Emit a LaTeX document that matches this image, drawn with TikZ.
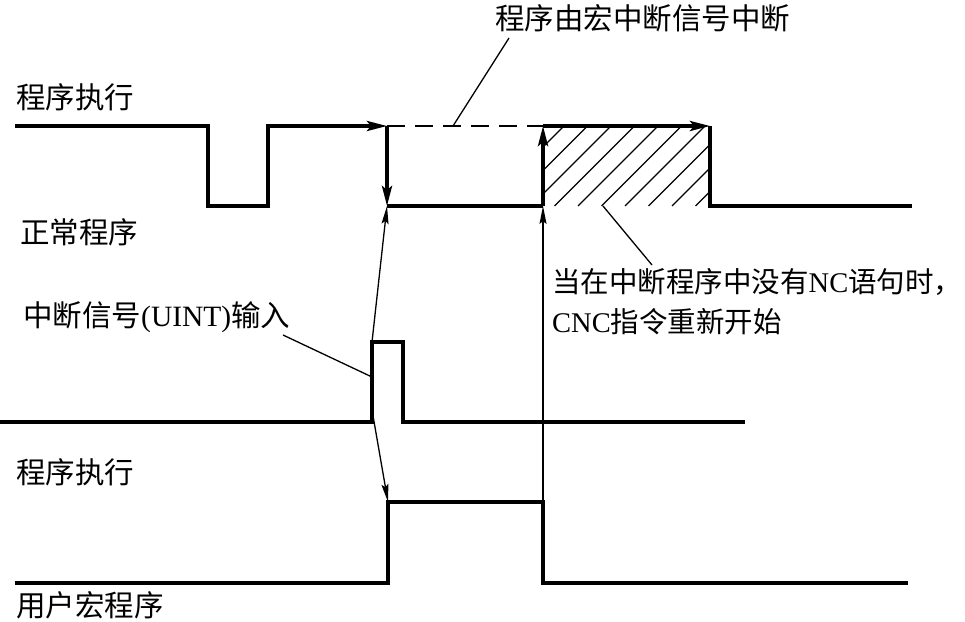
\documentclass[tikz,border=0pt]{standalone}
\usepackage{fontspec}
\setmainfont{Liberation Serif}
\newfontfamily\cjk{Noto Sans CJK SC}
\newcommand{\zh}[1]{{\cjk #1}}
\usetikzlibrary{arrows.meta}

\begin{document}
\begin{tikzpicture}[x=1pt,y=-1pt,
  font=\fontsize{29.5}{40}\selectfont,
  wave/.style={line width=3.5pt,line join=miter},
  thinline/.style={line width=1.3pt},
  warr/.style={wave,-{Stealth[length=20pt,width=10pt,inset=4pt]}},
  tarr/.style={thinline,-{Stealth[length=18pt,width=7pt,inset=3pt]}},
  lbl/.style={anchor=west,inner sep=0pt,align=left}]
  \useasboundingbox (0,0) rectangle (965,621);
  % normal program
  \coordinate (a0) at (15,126);
  \coordinate (a2) at (208,206);
  \coordinate (a4) at (268,126);
  \coordinate (a5) at (387,126);
  \coordinate (a6) at (387,206);
  \coordinate (a7) at (543,206);
  \coordinate (a8) at (543,126);
  \coordinate (a9) at (710,126);
  \coordinate (a10) at (710,206);
  \coordinate (a11) at (912,206);
  \begin{scope}
    \clip (a8) rectangle (a10);
    \foreach \c in {0,...,11}
      \draw[line width=1.2pt] (484+23.5*\c,206) -- ++(80,-80);
  \end{scope}
  \draw[warr] (a0) -| (a2) -| (a4) -- (a5);
  \draw[warr] (a5) -- (a6);
  \draw[wave] (a6) -- (a7);
  \draw[warr] (a7) -- (a8);
  \draw[warr] (a8) -- (a9);
  \draw[wave] (a9) |- (a11);
  \draw[line width=1.6pt,dash pattern=on 18pt off 10pt] (a5) -- (a8);
  % interrupt signal
  \coordinate (m0) at (0,422);
  \coordinate (m1) at (372,342);
  \coordinate (m2) at (403,422);
  \coordinate (m3) at (745,422);
  \coordinate (m4) at (372,410);
  \coordinate (m5) at (372,377);
  \draw[wave] (m0) -| (m1) -| (m2) -- (m3);
  % user macro
  \coordinate (b0) at (15,583);
  \coordinate (b1) at (388,502);
  \coordinate (b2) at (543,502);
  \coordinate (b3) at (543,583);
  \coordinate (b4) at (908,583);
  \draw[wave] (b0) -| (b1) -- (b2) -- (b3) -- (b4);
  \draw[tarr] (m1) -- (a6);
  \draw[tarr] (m4) -- (b1);
  \draw[tarr] (b2) -- (a7);
  % labels
  \node[lbl] (exec1) at (16,97) {\zh{程序执行}};
  \node[lbl] (normal) at (20,232) {\zh{正常程序}};
  \node[lbl] (intr) at (495,18) {\zh{程序由宏中断信号中断}};
  \node[lbl,font=\fontsize{28.5}{40}\selectfont] (resume) at (552,302)
    {\zh{当在中断程序中没有}NC\zh{语句时}\makebox[0.45em][l]{\zh{，}}\\CNC\zh{指令重新开始}};
  \node[lbl] (uint) at (23,317) {\zh{中断信号}(UINT)\zh{输入}};
  \node[lbl] (exec2) at (16,472) {\zh{程序执行}};
  \node[lbl] (user) at (16,605) {\zh{用户宏程序}};
  \coordinate (l1) at (509,38);
  \coordinate (l2) at (453,126);
  \coordinate (l3) at (652,265);
  \coordinate (l4) at (603,206);
  \coordinate (l5) at (283,335);
  \draw[thinline] (l1) -- (l2);
  \draw[thinline] (l3) -- (l4);
  \draw[thinline] (l5) -- (m5);
\end{tikzpicture}
\end{document}
